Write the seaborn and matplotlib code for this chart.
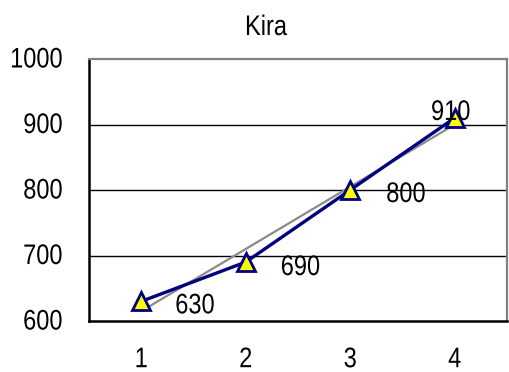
import matplotlib
matplotlib.use("Agg")
import matplotlib.pyplot as plt
import seaborn as sns
import pandas as pd
from matplotlib.patheffects import AbstractPathEffect
from matplotlib.transforms import Affine2D

# Chart data
categories = [1, 2, 3, 4]
values = [630, 690, 800, 910]
y_ticks = [600, 700, 800, 900, 1000]
title = "Kira"


class VStretch(AbstractPathEffect):
    """Draw text glyphs stretched vertically about their baseline."""

    def __init__(self, sy):
        super().__init__()
        self.sy = sy

    def draw_path(self, renderer, gc, tpath, affine, rgbFace=None):
        renderer.draw_path(gc, tpath, Affine2D().scale(1, self.sy) + affine, rgbFace)


TALL = [VStretch(1.2)]

sns.set_style("white")
plt.rcParams["font.family"] = ["Liberation Sans", "DejaVu Sans"]
plt.rcParams["text.color"] = "black"
plt.rcParams["xtick.color"] = "black"
plt.rcParams["ytick.color"] = "black"

df = pd.DataFrame({"x": categories, "y": values})

fig = plt.figure(figsize=(5.10, 3.72), dpi=100)
ax = fig.add_axes([0.1745, 0.137, 0.8195, 0.7044])

# Linear trend line
sns.regplot(data=df, x="x", y="y", ax=ax, scatter=False, ci=None,
            line_kws=dict(color="#8a8a8a", lw=1.6, zorder=3))

# Series line with triangle markers
sns.lineplot(data=df, x="x", y="y", ax=ax, color="#000080", lw=2.4,
             marker="^", markersize=13, markerfacecolor="#ffff00",
             markeredgecolor="#000080", markeredgewidth=2, zorder=4)

# Value labels (pixel offsets of the baseline from each point)
offsets = [(34, -12), (35, -13), (36, -12), (-4, -2)]
for xv, yv, (dx, dy) in zip(categories, values, offsets):
    ha = "left" if dx > 0 else "center"
    ax.annotate(str(yv), (xv, yv), xytext=(dx, dy), textcoords="offset pixels",
                ha=ha, va="baseline", fontsize=17, color="black", zorder=5,
                path_effects=TALL)

ax.set_xlim(0.5, 4.5)
ax.set_ylim(600, 1000)
ax.set_yticks(y_ticks)
ax.set_xticks(categories)
ax.set_xticks([0.5, 1.5, 2.5, 3.5, 4.5], minor=True)
ax.tick_params(axis="x", which="major", length=0, labelsize=17, pad=21)
ax.tick_params(axis="x", which="minor", length=7, width=1.2, color="black",
               direction="out")
ax.tick_params(axis="y", length=7, width=1.2, color="black", direction="out",
               labelsize=17, pad=12)
ax.set_xlabel("")
ax.set_ylabel("")

for yv in y_ticks[1:-1]:
    ax.axhline(yv, color="black", lw=1.0, zorder=1)

ax.spines["left"].set_color("black")
ax.spines["left"].set_linewidth(1.8)
ax.spines["bottom"].set_color("black")
ax.spines["bottom"].set_linewidth(1.8)
ax.spines["top"].set_color("#808080")
ax.spines["top"].set_linewidth(1.6)
ax.spines["right"].set_color("#808080")
ax.spines["right"].set_linewidth(1.6)

fig.text(266 / 510, 1 - 35 / 372, title, ha="center", va="baseline",
         fontsize=17, path_effects=TALL)

fig.canvas.draw()
for lab in ax.get_xticklabels() + ax.get_yticklabels():
    lab.set_path_effects(TALL)

fig.savefig("out.png", dpi=100, facecolor="white")
